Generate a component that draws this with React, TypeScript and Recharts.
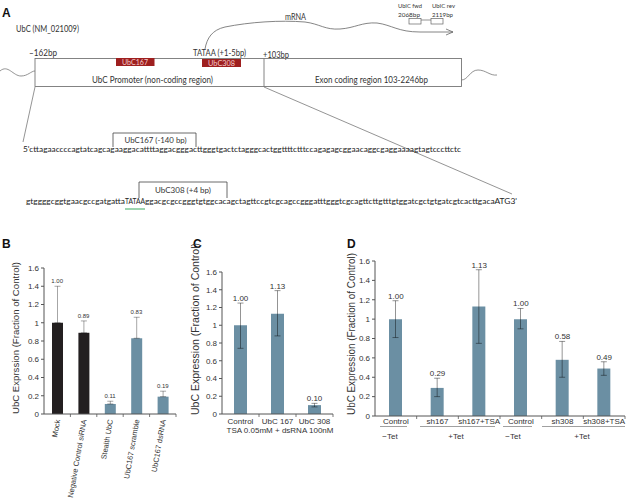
import { ComposedChart, Bar, Line, XAxis, YAxis, ErrorBar, LabelList, Cell } from 'recharts';

// Panel B – siRNA / dsRNA knockdown
const bCategories = ['Mock', 'Negative Control siRNA', 'Stealth UbC', 'UbC167 scramble', 'UbC167 dsRNA'];
const bValues = [1.0, 0.89, 0.11, 0.83, 0.19];
const bUpper = [1.4, 1.02, 0.14, 1.06, 0.25];
const bLabels = ['1.00', '0.89', '0.11', '0.83', '0.19'];
const bColors = ['#231f20', '#231f20', '#6b8fa3', '#6b8fa3', '#6b8fa3'];

// Panel C – TSA + dsRNA
const cCategories = ['Control', 'UbC 167', 'UbC 308'];
const cValues = [1.0, 1.13, 0.1];
const cLower = [0.74, 0.88, 0.08];
const cUpper = [1.25, 1.39, 0.12];
const cLabels = ['1.00', '1.13', '0.10'];

// Panel D – shRNA, Tet induction
const dCategories = ['Control', 'sh167', 'sh167+TSA', 'Control', 'sh308', 'sh308+TSA'];
const dValues = [1.0, 0.29, 1.13, 1.0, 0.58, 0.49];
const dLower = [0.81, 0.2, 0.75, 0.9, 0.4, 0.42];
const dUpper = [1.19, 0.39, 1.51, 1.11, 0.77, 0.56];
const dLabels = ['1.00', '0.29', '1.13', '1.00', '0.58', '0.49'];
const dGroups = ['\u2212Tet', '+Tet', '\u2212Tet', '+Tet'];

const yTicks = [0, 0.2, 0.4, 0.6, 0.8, 1, 1.2, 1.4, 1.6];

const BLUE = '#6b8fa3';
const AXIS = '#555';
const TXT = '#333';
const ERR = 'rgba(0,0,0,0.42)';
const CHART_FONT = "'Liberation Sans', Arial, sans-serif";
const DIAG_FONT = "Lato, 'Open Sans', sans-serif";

const bData = bCategories.map((name, i) => ({
  name,
  value: bValues[i],
  err: [0, bUpper[i] - bValues[i]],
  top: bUpper[i],
  lbl: bLabels[i],
}));

const cData = cCategories.map((name, i) => ({
  name,
  value: cValues[i],
  err: [cValues[i] - cLower[i], cUpper[i] - cValues[i]],
  top: cUpper[i],
  lbl: cLabels[i],
}));

const dData = dCategories.map((name, i) => ({
  name,
  value: dValues[i],
  err: [dValues[i] - dLower[i], dUpper[i] - dValues[i]],
  top: dUpper[i],
  lbl: dLabels[i],
}));

// tick marks sit on the band boundaries, labels in the middle
const BandTick = ({ x, y, payload, fs, dy }: any) => {
  const half = payload?.offset ?? 0;
  return (
    <g>
      <line x1={x + half} y1={y} x2={x + half} y2={y + 3} stroke={AXIS} strokeWidth={0.8} />
      <text x={x} y={y + dy} textAnchor="middle" fontSize={fs} fill={TXT} fontFamily={CHART_FONT}>
        {payload.value}
      </text>
    </g>
  );
};

const SlantTick = ({ x, y, payload }: any) => {
  const half = payload?.offset ?? 0;
  const ax = x + 3;
  const ay = y + 6;
  return (
    <g>
      <line x1={x + half} y1={y} x2={x + half} y2={y + 3} stroke={AXIS} strokeWidth={0.8} />
      <text
        x={ax}
        y={ay}
        transform={`rotate(-80, ${ax}, ${ay})`}
        textAnchor="end"
        fontSize={7.5}
        fill={TXT}
        fontFamily={CHART_FONT}
      >
        {payload.value}
      </text>
    </g>
  );
};

const yAxisProps = {
  type: 'number' as const,
  domain: [0, 1.6],
  ticks: yTicks,
  interval: 0 as const,
  tickSize: 3,
  tickMargin: 2,
  axisLine: { stroke: AXIS },
  tickLine: { stroke: AXIS },
  tick: { fontSize: 8, fill: TXT, fontFamily: CHART_FONT },
};

function Diagram() {
  return (
    <svg width={626} height={230} style={{ position: 'absolute', left: 0, top: 0 }} fontFamily={DIAG_FONT}>
      <text x={2} y={17} fontSize={12} fontWeight="bold" fontFamily={CHART_FONT} fill="#111">A</text>
      <text x={16} y={32} fontSize={9} fill={TXT} textLength={63} lengthAdjust="spacingAndGlyphs">UbC (NM_021009)</text>

      {/* mRNA arrow */}
      <path
        d="M205,49 C207,38 212,30 225,27 C250,22 280,20 305,22 C320,24 325,30 340,29 C355,28 362,22 377,23 C392,25 398,32 420,32 L453,32"
        fill="none"
        stroke="#666"
        strokeWidth={0.8}
      />
      <path d="M446,29 L453,32 L446,35" fill="none" stroke="#666" strokeWidth={0.8} />
      <text x={285} y={20} fontSize={9} fill={TXT} textLength={21} lengthAdjust="spacingAndGlyphs">mRNA</text>

      {/* primer boxes */}
      <text x={398} y={8} fontSize={6} fill={TXT} textLength={24} lengthAdjust="spacingAndGlyphs">UbIC fwd</text>
      <text x={398} y={17} fontSize={6} fill={TXT} textLength={22} lengthAdjust="spacingAndGlyphs">2068bp</text>
      <text x={432} y={8} fontSize={6} fill={TXT} textLength={23} lengthAdjust="spacingAndGlyphs">UbIC rev</text>
      <text x={432} y={17} fontSize={6} fill={TXT} textLength={21} lengthAdjust="spacingAndGlyphs">2119bp</text>
      <rect x={409} y={18.5} width={12} height={5.5} fill="none" stroke="#666" strokeWidth={0.7} />
      <rect x={431} y={18.5} width={12} height={5.5} fill="none" stroke="#666" strokeWidth={0.7} />
      <line x1={421} y1={20} x2={431} y2={20} stroke="#666" strokeWidth={0.7} />

      {/* gene box */}
      <text x={29} y={56} fontSize={9} fill={TXT} textLength={28} lengthAdjust="spacingAndGlyphs">{'\u2013162bp'}</text>
      <text x={193} y={56} fontSize={9} fill={TXT} textLength={53} lengthAdjust="spacingAndGlyphs">TATAA (+1-5bp)</text>
      <text x={263} y={58} fontSize={9} fill={TXT} textLength={26} lengthAdjust="spacingAndGlyphs">+103bp</text>
      <rect x={35} y={58.5} width={426.5} height={28} fill="none" stroke="#777" strokeWidth={0.9} />
      <line x1={264} y1={58.5} x2={264} y2={86.5} stroke="#777" strokeWidth={0.9} />
      <path d="M0,71 C8,64 13,76 21,76 C28,76 31,71 35,71" fill="none" stroke="#777" strokeWidth={0.8} />
      <path d="M461.5,80 C468,80 470,70 478,70 C486,70 490,76 497,75" fill="none" stroke="#777" strokeWidth={0.8} />
      <rect x={116} y={58} width={38.5} height={8} fill="#9e1f1f" />
      <text x={135} y={65} fontSize={8} fill="#f6cccc" textAnchor="middle" textLength={26} lengthAdjust="spacingAndGlyphs">UbC167</text>
      <rect x={202} y={59} width={39} height={8} fill="#9e1f1f" />
      <text x={221.5} y={66} fontSize={8} fill="#f6cccc" textAnchor="middle" textLength={27} lengthAdjust="spacingAndGlyphs">UbC308</text>
      <text x={92} y={83} fontSize={9} fill={TXT} textLength={121} lengthAdjust="spacingAndGlyphs">UbC Promoter (non-coding region)</text>
      <text x={315} y={83} fontSize={9} fill={TXT} textLength={113} lengthAdjust="spacingAndGlyphs">Exon coding region 103-2246bp</text>

      {/* zoom lines into the sequence */}
      <line x1={35} y1={87} x2={23} y2={142} stroke="#666" strokeWidth={0.7} />
      <line x1={264} y1={87} x2={512} y2={194} stroke="#666" strokeWidth={0.7} />

      {/* sequence */}
      <path d="M113,147 V133 H196 V147" fill="none" stroke="#444" strokeWidth={0.8} />
      <text x={155.5} y={143} fontSize={7.5} fill={TXT} textAnchor="middle" textLength={62} lengthAdjust="spacingAndGlyphs">UbC167 (-140 bp)</text>
      <text x={23} y={152} fontSize={7} fill="#222" textLength={438} lengthAdjust="spacingAndGlyphs">
        5'cttagaaccccagtatcagcagaaggacattttaggacgggacttgggtgactctagggcactggttttctttccagagagcggaacaggcgaggaaaagtagtcccttctc
      </text>
      <path d="M139,198 V182 H227 V198" fill="none" stroke="#444" strokeWidth={0.8} />
      <text x={183} y={193} fontSize={7.5} fill={TXT} textAnchor="middle" textLength={56} lengthAdjust="spacingAndGlyphs">UbC308 (+4 bp)</text>
      <text x={26} y={204} fontSize={7} fill="#222" textLength={99} lengthAdjust="spacingAndGlyphs">gtggggcggtgaacgccgatgatta</text>
      <text x={125} y={204} fontSize={7} fill="#222" textLength={20} lengthAdjust="spacingAndGlyphs">TATAA</text>
      <text x={145} y={204} fontSize={7} fill="#222" textLength={372} lengthAdjust="spacingAndGlyphs">
        ggacgcgccgggtgtggcacagctagttccgtcgcagccgggatttgggtcgcagttcttgtttgtggatcgctgtgatcgtcacttgacaATG3'
      </text>
      <line x1={125} y1={209} x2={145} y2={209} stroke="#5cb87a" strokeWidth={1.2} />
    </svg>
  );
}

function Overlay() {
  const groupLines = [
    [380, 407],
    [420, 495],
    [503, 532],
    [542, 625],
  ];
  const groupX = [390, 456, 513, 582];
  return (
    <svg width={626} height={502} style={{ position: 'absolute', left: 0, top: 0, pointerEvents: 'none' }} fontFamily={CHART_FONT}>
      <text x={2} y={248} fontSize={12} fontWeight="bold" fill="#111">B</text>
      <text x={193} y={248} fontSize={12} fontWeight="bold" fill="#111">C</text>
      <text x={347} y={248} fontSize={12} fontWeight="bold" fill="#111">D</text>

      <text x={19} y={338} transform="rotate(-90, 19, 338)" textAnchor="middle" fontSize={9.6} fill={TXT} textLength={152} lengthAdjust="spacingAndGlyphs">
        UbC Exprssion (Fraction of Control)
      </text>
      <text x={199} y={329} transform="rotate(-90, 199, 329)" textAnchor="middle" fontSize={10.5} fill={TXT} textLength={172} lengthAdjust="spacingAndGlyphs">
        UbC Expression (Fraction of Control)
      </text>
      <text x={355} y={334} transform="rotate(-90, 355, 334)" textAnchor="middle" fontSize={10} fill={TXT} textLength={162} lengthAdjust="spacingAndGlyphs">
        UbC Expression (Fraction of Control)
      </text>

      <text x={280} y={433} textAnchor="middle" fontSize={8} fill={TXT}>TSA 0.05mM + dsRNA 100nM</text>

      {groupLines.map(([a, b], i) => (
        <line key={i} x1={a} y1={426.5} x2={b} y2={426.5} stroke="#888" strokeWidth={0.8} />
      ))}
      {dGroups.map((g, i) => (
        <text key={i} x={groupX[i]} y={439} textAnchor="middle" fontSize={8} fill={TXT}>{g}</text>
      ))}
    </svg>
  );
}

export default function App() {
  return (
    <div style={{ position: 'absolute', left: 0, top: 0, width: 626, height: 502, background: '#fff', overflow: 'hidden' }}>
      <Diagram />

      <div style={{ position: 'absolute', left: 0, top: 230 }}>
        <ComposedChart width={190} height={272} data={bData} margin={{ top: 38, right: 14, bottom: 8, left: 14 }}>
          <XAxis
            dataKey="name"
            interval={0}
            height={80}
            tickSize={0}
            tickMargin={0}
            tickLine={false}
            axisLine={{ stroke: AXIS }}
            tick={(p: any) => <SlantTick {...p} />}
          />
          <YAxis {...yAxisProps} width={30} />
          <Bar dataKey="value" barSize={11} isAnimationActive={false}>
            {bData.map((d, i) => (
              <Cell key={d.name} fill={bColors[i]} />
            ))}
            <ErrorBar dataKey="err" width={3} stroke="rgba(0,0,0,0.35)" strokeWidth={1} direction="y" />
          </Bar>
          <Line dataKey="top" stroke="none" dot={false} activeDot={false} isAnimationActive={false}>
            <LabelList dataKey="lbl" position="top" offset={3} fontSize={6} fill={TXT} fontFamily={CHART_FONT} />
          </Line>
        </ComposedChart>
      </div>

      <div style={{ position: 'absolute', left: 190, top: 230 }}>
        <ComposedChart width={150} height={272} data={cData} margin={{ top: 42, right: 7, bottom: 8, left: 10 }}>
          <XAxis
            dataKey="name"
            interval={0}
            height={80}
            tickSize={0}
            tickMargin={0}
            tickLine={false}
            axisLine={{ stroke: AXIS }}
            tick={(p: any) => <BandTick {...p} fs={8} dy={10} />}
          />
          <YAxis {...yAxisProps} width={22} />
          <Bar dataKey="value" barSize={13} fill={BLUE} isAnimationActive={false}>
            <ErrorBar dataKey="err" width={3} stroke={ERR} strokeWidth={1} direction="y" />
          </Bar>
          <Line dataKey="top" stroke="none" dot={false} activeDot={false} isAnimationActive={false}>
            <LabelList dataKey="lbl" position="top" offset={2} fontSize={8} fill={TXT} fontFamily={CHART_FONT} />
          </Line>
        </ComposedChart>
      </div>

      <div style={{ position: 'absolute', left: 340, top: 230 }}>
        <ComposedChart width={286} height={272} data={dData} margin={{ top: 31, right: 1, bottom: 6, left: 5 }}>
          <XAxis
            dataKey="name"
            interval={0}
            height={80}
            tickSize={0}
            tickMargin={0}
            tickLine={false}
            axisLine={{ stroke: AXIS }}
            tick={(p: any) => <BandTick {...p} fs={8} dy={8} />}
          />
          <YAxis {...yAxisProps} width={30} />
          <Bar dataKey="value" barSize={13} fill={BLUE} isAnimationActive={false}>
            <ErrorBar dataKey="err" width={3} stroke={ERR} strokeWidth={1} direction="y" />
          </Bar>
          <Line dataKey="top" stroke="none" dot={false} activeDot={false} isAnimationActive={false}>
            <LabelList dataKey="lbl" position="top" offset={2} fontSize={8} fill={TXT} fontFamily={CHART_FONT} />
          </Line>
        </ComposedChart>
      </div>

      <Overlay />
    </div>
  );
}
